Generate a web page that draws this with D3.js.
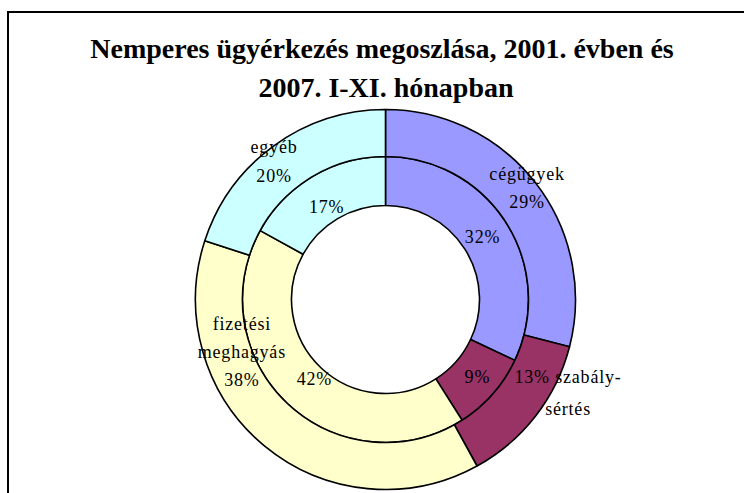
<!DOCTYPE html>
<html>
<head>
<meta charset="utf-8">
<script src="https://cdn.jsdelivr.net/npm/d3@7"></script>
<style>
  body { margin: 0; background: #fff; }
  svg { display: block; }
  text { font-family: "Liberation Serif", "Times New Roman", serif; fill: #000; }
</style>
</head>
<body>
<svg id="chart" width="744" height="493"></svg>
<script>
// categories, clockwise from 12 o'clock
var categories = ["cégügyek", "szabálysértés", "fizetési meghagyás", "egyéb"];
// inner ring (2001) and outer ring (2007 I-XI.)
var values2001 = [32, 9, 42, 17];
var values2007 = [29, 13, 38, 20];
var colors = ["#9999FF", "#993366", "#FFFFCC", "#CCFFFF"];

var titleLines = ["Nemperes ügyérkezés megoszlása, 2001. évben és", "2007. I-XI. hónapban"];

// label lines for outer ring (category names shown there)
var outerLabelLines = [["cégügyek", "{p}"], ["{p} szabály-", "sértés"], ["fizetési", "meghagyás", "{p}"], ["egyéb", "{p}"]];

function init() {
  var width = 744, height = 493;
  var cx = 385.5, cy = 299.5;
  var r0 = 94, r1 = 143, r2 = 190;

  var svg = d3.select("#chart");

  // frame
  svg.append("path")
    .attr("d", "M8," + (height + 5) + " L8,12 L" + (width + 5) + ",12")
    .attr("fill", "none")
    .attr("stroke", "#000")
    .attr("stroke-width", 2);

  // title
  var title = svg.append("text")
    .attr("text-anchor", "middle")
    .style("font-size", "28px")
    .style("font-weight", "bold");
  title.append("tspan").attr("x", 382).attr("y", 58).text(titleLines[0]);
  title.append("tspan").attr("x", 386).attr("y", 97).text(titleLines[1]);

  var pie = d3.pie().sort(null).value(function (d) { return d; });
  var color = d3.scaleOrdinal().domain(categories).range(colors);

  var g = svg.append("g").attr("transform", "translate(" + cx + "," + cy + ")");

  var innerArc = d3.arc().innerRadius(r0).outerRadius(r1);
  var outerArc = d3.arc().innerRadius(r1).outerRadius(r2);

  var rings = [
    { data: values2001, arc: innerArc },
    { data: values2007, arc: outerArc }
  ];

  rings.forEach(function (ring) {
    g.append("g").selectAll("path")
      .data(pie(ring.data))
      .enter().append("path")
      .attr("d", ring.arc)
      .attr("fill", function (d, i) { return color(categories[i]); })
      .attr("stroke", "#000")
      .attr("stroke-width", 1.6)
      .attr("stroke-linejoin", "round");
  });

  // label offsets from arc centroid (Excel moved some of them)
  var innerOffsets = [[-3, 1], [3, -1], [10, -6.5], [1.5, 9.5]];
  var outerOffsets = [[10, -9.5], [51, -8.6], [-37.5, -76], [-13.6, -3.3]];
  var lineH = [28, 32, 28, 28.5];

  function drawLabel(lines, pos, lh) {
    var t = g.append("text")
      .attr("text-anchor", "middle")
      .style("font-size", "18px")
      .style("letter-spacing", "0.8px");
    var top = pos[1] - (lines.length - 1) * lh / 2 + 6;
    lines.forEach(function (s, k) {
      t.append("tspan").attr("x", pos[0]).attr("y", top + k * lh).text(s);
    });
  }

  pie(values2001).forEach(function (d, i) {
    var c = innerArc.centroid(d);
    drawLabel([d.data + "%"], [c[0] + innerOffsets[i][0], c[1] + innerOffsets[i][1]], 28);
  });

  pie(values2007).forEach(function (d, i) {
    var c = outerArc.centroid(d);
    var lines = outerLabelLines[i].map(function (s) { return s.replace("{p}", d.data + "%"); });
    drawLabel(lines, [c[0] + outerOffsets[i][0], c[1] + outerOffsets[i][1]], lineH[i]);
  });
}

window.addEventListener("DOMContentLoaded", init);
</script>
</body>
</html>
